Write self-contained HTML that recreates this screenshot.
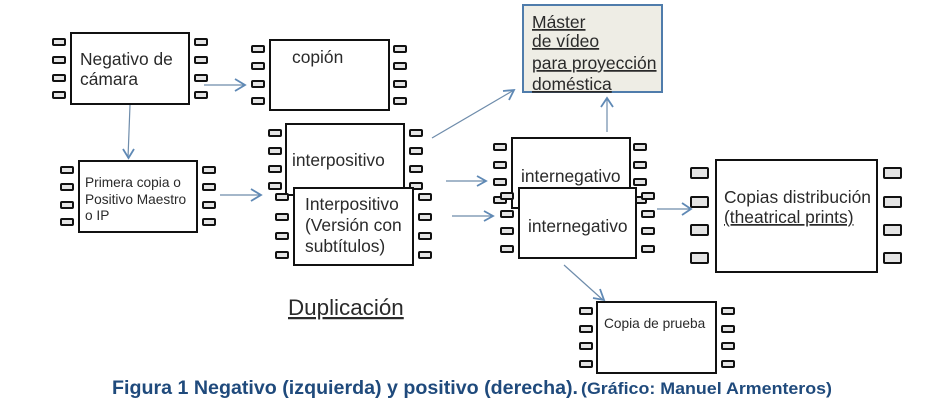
<!DOCTYPE html>
<html><head><meta charset="utf-8"><style>
html,body{margin:0;padding:0;background:#fff}
svg{display:block}
text{font-family:"Liberation Sans",sans-serif;fill:#2a2a2a}
.box{fill:#fff;stroke:#111;stroke-width:2}
.h{fill:#e4e4e4;stroke:#111;stroke-width:2}
.a{stroke:#6e8cab;stroke-width:1.2;fill:none}
.ah{stroke:#5f89b5;stroke-width:1.8;fill:none}
.cap{font-family:"Liberation Sans",sans-serif;font-weight:bold;fill:#1f4a7c}
</style></head><body>
<svg width="934" height="406" viewBox="0 0 934 406" xmlns="http://www.w3.org/2000/svg">
<defs>
<g id="l"><rect class="h" x="0" y="0" width="12" height="6" rx="1"/></g>
</defs>

<!-- Negativo -->
<rect class="box" x="71" y="33" width="118" height="71"/>
<use href="#l" x="53" y="39"/><use href="#l" x="53" y="57"/><use href="#l" x="53" y="75"/><use href="#l" x="53" y="92"/>
<use href="#l" x="195" y="39"/><use href="#l" x="195" y="57"/><use href="#l" x="195" y="75"/><use href="#l" x="195" y="92"/>
<text x="80" y="65" font-size="17.4">Negativo de</text>
<text x="80" y="85" font-size="17.4">cámara</text>

<!-- copion -->
<rect class="box" x="270" y="40" width="119" height="70"/>
<use href="#l" x="252" y="46"/><use href="#l" x="252" y="63"/><use href="#l" x="252" y="81"/><use href="#l" x="252" y="98"/>
<use href="#l" x="394" y="46"/><use href="#l" x="394" y="63"/><use href="#l" x="394" y="81"/><use href="#l" x="394" y="98"/>
<text x="292" y="63" font-size="17.4">copión</text>

<!-- Primera -->
<rect class="box" x="79" y="161" width="118" height="71"/>
<use href="#l" x="61" y="167"/><use href="#l" x="61" y="184"/><use href="#l" x="61" y="202"/><use href="#l" x="61" y="219"/>
<use href="#l" x="203" y="167"/><use href="#l" x="203" y="184"/><use href="#l" x="203" y="202"/><use href="#l" x="203" y="219"/>
<text x="85" y="187" font-size="13.7">Primera copia o</text>
<text x="85" y="204" font-size="13.7">Positivo Maestro</text>
<text x="85" y="220" font-size="13.7">o IP</text>

<!-- interpositivo back -->
<rect class="box" x="286" y="124" width="118" height="71"/>
<use href="#l" x="269" y="130"/><use href="#l" x="269" y="148"/><use href="#l" x="269" y="166"/><use href="#l" x="269" y="183"/>
<use href="#l" x="410" y="130"/><use href="#l" x="410" y="148"/><use href="#l" x="410" y="166"/><use href="#l" x="410" y="183"/>
<text x="292" y="166" font-size="17.4">interpositivo</text>

<!-- Interpositivo front -->
<rect class="box" x="294" y="188" width="119" height="77"/>
<use href="#l" x="276" y="194"/><use href="#l" x="276" y="214"/><use href="#l" x="276" y="233"/><use href="#l" x="276" y="252"/>
<use href="#l" x="419" y="194"/><use href="#l" x="419" y="214"/><use href="#l" x="419" y="233"/><use href="#l" x="419" y="252"/>
<text x="305" y="210" font-size="17.4">Interpositivo</text>
<text x="305" y="231" font-size="17.4">(Versión con</text>
<text x="305" y="252" font-size="17.4">subtítulos)</text>

<!-- Master -->
<rect x="523" y="5" width="139" height="87" fill="#eeede5" stroke="#4f7cab" stroke-width="2"/>
<text x="532" y="28" font-size="17.5" text-decoration="underline">Máster</text>
<text x="532" y="47" font-size="17.5" text-decoration="underline">de vídeo</text>
<text x="532" y="69" font-size="17.5" text-decoration="underline">para proyección</text>
<text x="532" y="90" font-size="17.5" text-decoration="underline">doméstica</text>

<!-- internegativo back -->
<rect class="box" x="512" y="138" width="118" height="70"/>
<use href="#l" x="494" y="144"/><use href="#l" x="494" y="162"/><use href="#l" x="494" y="179"/><use href="#l" x="494" y="197"/>
<use href="#l" x="634" y="144"/><use href="#l" x="634" y="162"/><use href="#l" x="634" y="179"/><use href="#l" x="634" y="197"/>
<text x="521" y="182" font-size="17.4">internegativo</text>

<!-- internegativo front -->
<rect class="box" x="519" y="188" width="117" height="70"/>
<use href="#l" x="501" y="193"/><use href="#l" x="501" y="211"/><use href="#l" x="501" y="228"/><use href="#l" x="501" y="246"/>
<use href="#l" x="642" y="193"/><use href="#l" x="642" y="211"/><use href="#l" x="642" y="228"/><use href="#l" x="642" y="246"/>
<text x="528" y="232" font-size="17.4">internegativo</text>

<!-- Copias -->
<rect class="box" x="716" y="160" width="161" height="112"/>
<g class="h">
<rect x="691" y="168" width="17" height="10" rx="1"/><rect x="691" y="197" width="17" height="10" rx="1"/><rect x="691" y="225" width="17" height="10" rx="1"/><rect x="691" y="253" width="17" height="10" rx="1"/>
<rect x="884" y="168" width="17" height="10" rx="1"/><rect x="884" y="197" width="17" height="10" rx="1"/><rect x="884" y="225" width="17" height="10" rx="1"/><rect x="884" y="253" width="17" height="10" rx="1"/>
</g>
<text x="724" y="203" font-size="17.4">Copias distribución</text>
<text x="724" y="223" font-size="17.4" text-decoration="underline">(theatrical prints)</text>

<!-- Copia de prueba -->
<rect class="box" x="597" y="302" width="119" height="71"/>
<use href="#l" x="580" y="308"/><use href="#l" x="580" y="326"/><use href="#l" x="580" y="343"/><use href="#l" x="580" y="361"/>
<use href="#l" x="722" y="308"/><use href="#l" x="722" y="326"/><use href="#l" x="722" y="343"/><use href="#l" x="722" y="361"/>
<text x="604" y="328" font-size="13.7" fill="#444">Copia de prueba</text>

<text x="288" y="315" font-size="22.4" text-decoration="underline">Duplicación</text>

<!-- Arrows -->
<line class="a" x1="204" y1="85" x2="245" y2="85"/><path class="ah" d="M235 79L245 85L235 91"/>
<line class="a" x1="130" y1="105" x2="128" y2="158"/><path class="ah" d="M123 149L128.500 158L134 149"/>
<line class="a" x1="220" y1="195" x2="261" y2="195"/><path class="ah" d="M251 189L261 195L251 201"/>
<line class="a" x1="432" y1="138" x2="514" y2="90"/><path class="ah" d="M503 91L514 90L509 100"/>
<line class="a" x1="446" y1="181" x2="486" y2="181"/><path class="ah" d="M477 176L486 181L477 186"/>
<line class="a" x1="452" y1="216" x2="493" y2="216"/><path class="ah" d="M484 211L493 216L484 221"/>
<line class="a" x1="607" y1="132" x2="607" y2="98"/><path class="ah" d="M601 107L607 98L613 107"/>
<line class="a" x1="657" y1="209" x2="691" y2="209"/><path class="ah" d="M682 203L691 209L682 215"/>
<line class="a" x1="564" y1="265" x2="603" y2="300"/><path class="ah" d="M600 289L604 300L593 298"/>

<text class="cap" x="112" y="394" font-size="19.5" textLength="466" lengthAdjust="spacingAndGlyphs">Figura 1 Negativo (izquierda) y positivo (derecha).</text>
<text class="cap" x="581" y="394" font-size="17" textLength="251" lengthAdjust="spacingAndGlyphs">(Gráfico: Manuel Armenteros)</text>
</svg>
</body></html>
